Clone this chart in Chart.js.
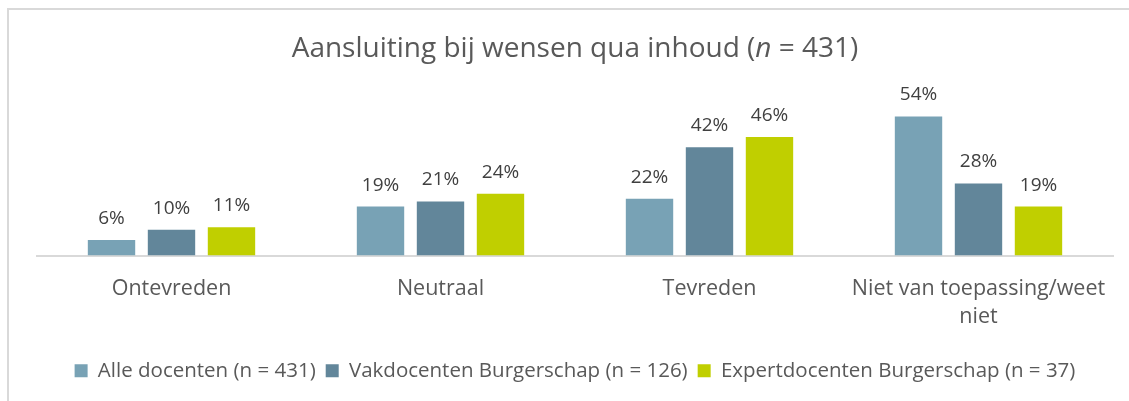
<!DOCTYPE html>
<html>
<head>
<meta charset="utf-8">
<script src="https://cdn.jsdelivr.net/npm/chart.js"></script>
<style>
  html, body { margin: 0; padding: 0; background: #fff; }
  #wrap { position: relative; width: 1129px; height: 401px; overflow: hidden; }
  #frame { position: absolute; left: 7px; top: 8px; width: 1140px; height: 420px;
           border-top: 2px solid #d9d9d9; border-left: 2px solid #d9d9d9; }
  #title { position: absolute; left: 0; width: 1150px; top: 32px; text-align: center;
           font-family: 'Open Sans', sans-serif; font-size: 28px; line-height: 28px; color: #595959; }
  canvas { position: absolute; left: 0; top: 0; }
</style>
</head>
<body>
<div id="wrap">
  <div id="frame"></div>
  <canvas id="chart" width="1129" height="401"></canvas>
  <div id="title">Aansluiting bij wensen qua inhoud (<i>n</i> = 431)</div>
</div>
<script>
// categories and series (percentages)
const categories = ['Ontevreden', 'Neutraal', 'Tevreden', ['Niet van toepassing/weet', 'niet']];
const alleDocenten = [6, 19, 22, 54];
const vakDocenten = [10, 21, 42, 28];
const expertDocenten = [11, 24, 46, 19];
const seriesNames = [
    'Alle docenten (n = 431)',
    'Vakdocenten Burgerschap (n = 126)',
    'Expertdocenten Burgerschap (n = 37)'
];
const seriesColors = ['#78A2B5', '#62869A', '#C0CF00'];

Chart.defaults.font.family = "'Open Sans', sans-serif";

// draws the value above every bar
const valueLabels = {
    id: 'valueLabels',
    afterDatasetsDraw(chart) {
        const ctx = chart.ctx;
        ctx.save();
        ctx.font = "19px 'Open Sans', sans-serif";
        ctx.fillStyle = '#404040';
        ctx.textAlign = 'center';
        ctx.textBaseline = 'alphabetic';
        chart.data.datasets.forEach((ds, i) => {
            chart.getDatasetMeta(i).data.forEach((bar, j) => {
                ctx.fillText(ds.data[j] + '%', bar.x, bar.y - 16);
            });
        });
        ctx.restore();
    }
};

const ctx = document.getElementById('chart');
new Chart(ctx, {
    type: 'bar',
    data: {
        labels: categories,
        datasets: [
            { label: seriesNames[0], data: alleDocenten, backgroundColor: seriesColors[0] },
            { label: seriesNames[1], data: vakDocenten, backgroundColor: seriesColors[1] },
            { label: seriesNames[2], data: expertDocenten, backgroundColor: seriesColors[2] }
        ]
    },
    options: {
        responsive: false,
        animation: false,
        categoryPercentage: 0.669,
        barPercentage: 0.79,
        layout: {
            padding: { left: 37, right: 16, top: 101, bottom: 10 }
        },
        plugins: {
            title: { display: false },
            tooltip: { enabled: false },
            legend: {
                position: 'bottom',
                labels: {
                    boxWidth: 13,
                    boxHeight: 13,
                    padding: 10,
                    color: '#595959',
                    font: { size: 20.5 }
                }
            }
        },
        scales: {
            y: {
                display: false,
                min: 0,
                max: 60
            },
            x: {
                grid: { display: false, drawTicks: false },
                border: { color: '#d9d9d9', width: 2 },
                ticks: {
                    color: '#595959',
                    padding: 19,
                    maxRotation: 0,
                    autoSkip: false,
                    font: { size: 21.5, lineHeight: 1.3 }
                },
                afterFit(scale) {
                    scale.height = 95;
                }
            }
        }
    },
    plugins: [valueLabels]
});
</script>
</body>
</html>
